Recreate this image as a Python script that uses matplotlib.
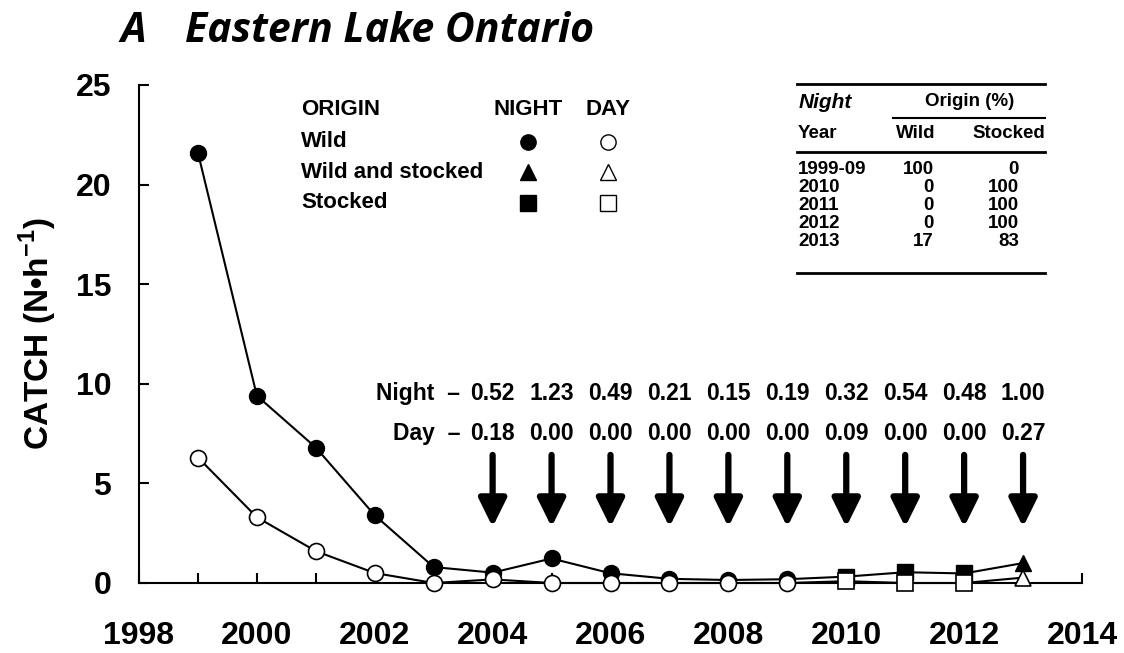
import numpy as np
import matplotlib.pyplot as plt

plt.rcParams['font.family'] = ['Liberation Sans', 'DejaVu Sans']
plt.rcParams['font.weight'] = 'bold'
plt.rcParams['mathtext.fontset'] = 'custom'
plt.rcParams['mathtext.rm'] = 'Liberation Sans:bold'
plt.rcParams['mathtext.bf'] = 'Liberation Sans:bold'

years = np.arange(1999, 2014)
night = [21.6, 9.4, 6.8, 3.4, 0.8, 0.52, 1.23, 0.49, 0.21, 0.15, 0.19,
         0.32, 0.54, 0.48, 1.00]
day = [6.3, 3.3, 1.6, 0.5, 0.0, 0.18, 0.0, 0.0, 0.0, 0.0, 0.0,
       0.09, 0.0, 0.0, 0.27]
origin = ['wild'] * 11 + ['stocked'] * 3 + ['both']

arrow_years = np.arange(2004, 2014)
night_lbl = ['0.52', '1.23', '0.49', '0.21', '0.15', '0.19', '0.32', '0.54', '0.48', '1.00']
day_lbl = ['0.18', '0.00', '0.00', '0.00', '0.00', '0.00', '0.09', '0.00', '0.00', '0.27']

tbl_years = ['1999-09', '2010', '2011', '2012', '2013']
tbl_wild = ['100', '0', '0', '0', '17']
tbl_stocked = ['0', '100', '100', '100', '83']

marks = {'wild': 'o', 'both': '^', 'stocked': 's'}
W, H = 1124, 653

fig = plt.figure(figsize=(W / 100, H / 100), dpi=100)
ax = fig.add_axes([139 / W, 1 - 583 / H, (1082 - 139) / W, (583 - 85) / H])

origin = np.array(origin)
ax.plot(years, night, '-', color='black', lw=1.5, zorder=2, clip_on=False)
ax.plot(years, day, '-', color='black', lw=1.5, zorder=3, clip_on=False)
for k, m in marks.items():
    sel = origin == k
    ms = 11.5 if m == 'o' else 11
    ax.plot(years[sel], np.array(night)[sel], m, ms=ms, mfc='black', mec='black',
            zorder=2.5, clip_on=False)
    ax.plot(years[sel], np.array(day)[sel], m, ms=ms, mfc='white', mec='black',
            mew=1.2, zorder=3.5, clip_on=False)

ax.set_xlim(1998, 2014)
ax.set_ylim(0, 25)
ax.set_xticks(np.arange(1998, 2015, 2))
ax.set_xticks(np.arange(1998, 2015, 1), minor=True)
ax.set_yticks(np.arange(0, 26, 5))
ax.tick_params(axis='both', direction='in', labelsize=23, width=1.5, length=7)
ax.tick_params(axis='x', which='minor', direction='in', width=1.5, length=7)
ax.tick_params(axis='x', pad=27)
ax.tick_params(axis='y', pad=20)
for lab in ax.get_xticklabels() + ax.get_yticklabels():
    lab.set_fontweight('bold')
for s in ['top', 'right']:
    ax.spines[s].set_visible(False)
for s in ['left', 'bottom']:
    ax.spines[s].set_linewidth(1.5)
ax.set_ylabel(r'CATCH (N•h$^{-1}$)', fontsize=24, fontweight='bold', labelpad=12)

# arrows and values
for x, nl, dl in zip(arrow_years, night_lbl, day_lbl):
    ax.annotate('', xy=(x, 2.81), xytext=(x, 6.43),
                arrowprops=dict(arrowstyle='-|>,head_length=0.85,head_width=0.42',
                                mutation_scale=20, lw=4.5, color='black',
                                shrinkA=0, shrinkB=0))
    ax.text(x, 9.5, nl, ha='center', va='center', fontsize=16.5, fontweight='bold')
    ax.text(x, 7.5, dl, ha='center', va='center', fontsize=16.5, fontweight='bold')
ax.text(2003.45, 9.5, 'Night  \u2013', ha='right', va='center', fontsize=16.5, fontweight='bold')
ax.text(2003.45, 7.5, 'Day  \u2013', ha='right', va='center', fontsize=16.5, fontweight='bold')

# legend
lx, nx, dx = 2000.75, 2004.6, 2005.96
ax.text(lx, 23.75, 'ORIGIN', ha='left', va='center', fontsize=16, fontweight='bold')
ax.text(nx, 23.75, 'NIGHT', ha='center', va='center', fontsize=16, fontweight='bold')
ax.text(dx, 23.75, 'DAY', ha='center', va='center', fontsize=16, fontweight='bold')
leg_rows = [('Wild', 'o'), ('Wild and stocked', '^'), ('Stocked', 's')]
for i, (name, m) in enumerate(leg_rows):
    yy = 22.15 - i * 1.53
    ax.text(lx, yy, name, ha='left', va='center', fontsize=16, fontweight='bold')
    ax.plot(nx, yy, m, ms=11, mfc='black', mec='black', clip_on=False)
    ax.plot(dx, yy, m, ms=11, mfc='white', mec='black', mew=1.0, clip_on=False)

# title
fig.text(120 / W, 1 - 31 / H, 'A', fontsize=29.5, fontweight='bold', style='italic',
         family=['Open Sans', 'DejaVu Sans'], ha='left', va='center')
fig.text(185 / W, 1 - 31 / H, 'Eastern Lake Ontario', fontsize=29.5, fontweight='bold',
         style='italic', family=['Open Sans', 'DejaVu Sans'], ha='left', va='center')


# table
def px(x, y):
    return x / W, 1 - y / H


def hline(x0, x1, y, lw):
    fig.add_artist(plt.Line2D([x0 / W, x1 / W], [1 - y / H, 1 - y / H],
                              color='black', lw=lw))


fs = 13.5
hline(797, 1045, 84, 2.0)
hline(893, 1045, 118, 1.5)
hline(797, 1045, 152, 2.0)
hline(797, 1045, 273, 2.0)
fig.text(*px(799, 102), 'Night', fontsize=15, fontweight='bold', style='italic',
         ha='left', va='center')
fig.text(*px(970, 102), 'Origin (%)', fontsize=fs, ha='center', va='center')
fig.text(*px(798, 134), 'Year', fontsize=fs, ha='left', va='center')
fig.text(*px(916, 134), 'Wild', fontsize=fs, ha='center', va='center')
fig.text(*px(1045, 134), 'Stocked', fontsize=fs, ha='right', va='center')
for i, (yr, w, s) in enumerate(zip(tbl_years, tbl_wild, tbl_stocked)):
    yy = 169 + i * 18.2
    fig.text(*px(798, yy), yr, fontsize=fs, ha='left', va='center')
    fig.text(*px(934, yy), w, fontsize=fs, ha='right', va='center')
    fig.text(*px(1019, yy), s, fontsize=fs, ha='right', va='center')

fig.savefig('out.png', dpi=100)
